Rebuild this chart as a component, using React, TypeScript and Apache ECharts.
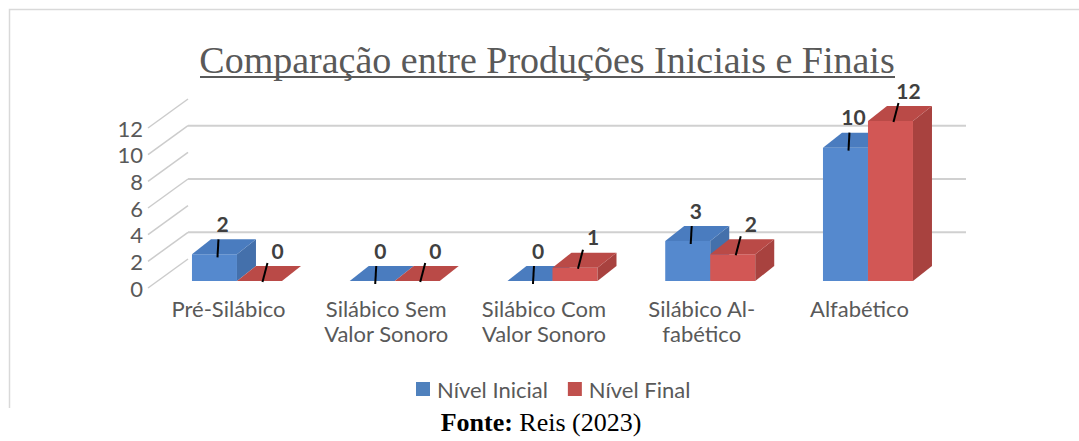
import React, { useEffect, useRef } from "react";
import * as echarts from "echarts";

const categories = [
  "Pré-Silábico",
  "Silábico Sem\nValor Sonoro",
  "Silábico Com\nValor Sonoro",
  "Silábico Al-\nfabético",
  "Alfabético",
];
const nivelInicial = [2, 0, 0, 3, 10];
const nivelFinal = [0, 0, 1, 2, 12];
const yTicks = [0, 2, 4, 6, 8, 10, 12];
const wallLines = [2, 6, 10];
const seriesNames = ["Nível Inicial", "Nível Final"];
const titleText = "Comparação entre Produções Iniciais e Finais";

const BAR_W = 45;
const DEPTH_X = 19;
const DEPTH_Y = -15;
const WALL_X = 40;
const WALL_Y = -29;

const palettes = [
  {
    legend: "#4F81BD", front: "#5589CE", top: "#4A7CBF", side: "#4470AB",
    labelDx: 8, lead: [-4, 16, -5, 34],
  },
  {
    legend: "#C0504D", front: "#D25755", top: "#BA4A47", side: "#A8423F",
    labelDx: 18, lead: [-10, 13, -15, 32],
  },
];

function barRender(idx: number) {
  const p = palettes[idx];
  return (params: any, api: any) => {
    const i = api.value(0);
    const v = api.value(1);
    const t = api.coord([i, v]);
    const b = api.coord([i, 0]);
    const x0 = idx === 0 ? t[0] - BAR_W : t[0];
    const x1 = x0 + BAR_W;
    const yt = t[1];
    const yb = b[1];
    const z = idx + 1;
    const lx = (x0 + x1) / 2 + p.labelDx;
    const ly = yt - 31;
    const children: any[] = [
      {
        type: "rect",
        z2: z,
        shape: { x: x0, y: yt, width: BAR_W, height: Math.max(0, yb - yt) },
        style: { fill: p.front },
      },
      {
        type: "polygon",
        z2: z,
        shape: {
          points: [
            [x1, yt],
            [x1 + DEPTH_X, yt + DEPTH_Y],
            [x1 + DEPTH_X, yb + DEPTH_Y],
            [x1, yb],
          ],
        },
        style: { fill: p.side },
      },
      {
        type: "polygon",
        z2: z,
        shape: {
          points: [
            [x0, yt],
            [x1, yt],
            [x1 + DEPTH_X, yt + DEPTH_Y],
            [x0 + DEPTH_X, yt + DEPTH_Y],
          ],
        },
        style: { fill: p.top },
      },
      {
        type: "line",
        z2: 10,
        shape: {
          x1: lx + p.lead[0], y1: ly + p.lead[1],
          x2: lx + p.lead[2], y2: ly + p.lead[3],
        },
        style: { stroke: "#000000", lineWidth: 2 },
      },
      {
        type: "text",
        z2: 11,
        style: {
          text: String(v),
          x: lx,
          y: ly,
          fill: "#404040",
          fontFamily: "Lato",
          fontWeight: "bold",
          fontSize: 21,
          align: "center",
          verticalAlign: "middle",
        },
      },
    ];
    return { type: "group", children };
  };
}

export default function App() {
  const ref = useRef<HTMLDivElement>(null);
  useEffect(() => {
    if (!ref.current) return;
    const chart = echarts.init(ref.current, undefined, { renderer: "svg" });
    const option: any = {
      animation: false,
      backgroundColor: "#ffffff",
      grid: [
        { left: 158.1, top: 121, width: 788.75, height: 160 },
        { left: 148, top: 128, width: 818, height: 160 },
      ],
      xAxis: [
        {
          type: "category",
          gridIndex: 0,
          data: categories,
          axisLine: { show: false },
          axisTick: { show: false },
          splitLine: { show: false },
          axisLabel: {
            interval: 0,
            margin: 15,
            color: "#595959",
            fontFamily: "Lato",
            fontSize: 22,
            lineHeight: 25,
            padding: [0, 17, 0, 0],
          },
        },
        {
          type: "value",
          gridIndex: 1,
          min: 0,
          max: 1,
          show: false,
        },
      ],
      yAxis: [
        { type: "value", gridIndex: 0, min: 0, max: 12, show: false },
        {
          type: "value",
          gridIndex: 1,
          min: 0,
          max: 12,
          interval: 2,
          axisLine: { show: false },
          axisTick: { show: false },
          splitLine: { show: false },
          axisLabel: {
            margin: 5,
            color: "#595959",
            fontFamily: "Lato",
            fontSize: 22,
          },
        },
      ],
      legend: {
        data: seriesNames,
        left: 411,
        top: 373,
        icon: "rect",
        itemWidth: 14,
        itemHeight: 14,
        itemGap: 20,
        textStyle: {
          color: "#595959",
          fontFamily: "Lato",
          fontSize: 22,
          padding: [0, 0, 0, 2],
        },
      },
      graphic: [
        {
          type: "polyline",
          shape: { points: [[9.5, 408], [9.5, 9.5], [1079, 9.5]] },
          style: { stroke: "#d9d9d9", lineWidth: 1.5, fill: "none" },
          silent: true,
        },
        {
          type: "text",
          x: 547,
          y: 60,
          style: {
            text: titleText,
            fill: "#595959",
            fontFamily: "Liberation Serif",
            fontSize: 38,
            align: "center",
            verticalAlign: "middle",
          },
        },
        {
          type: "line",
          shape: { x1: 200, y1: 77, x2: 895, y2: 77 },
          style: { stroke: "#595959", lineWidth: 2 },
        },
        {
          type: "text",
          x: 541,
          y: 422,
          style: {
            text: "{b|Fonte:} Reis (2023)",
            fill: "#000000",
            fontFamily: "Liberation Serif",
            fontSize: 26,
            align: "center",
            verticalAlign: "middle",
            rich: {
              b: {
                fontFamily: "Liberation Serif",
                fontSize: 26,
                fontWeight: "bold",
                fill: "#000000",
              },
            },
          },
        },
      ],
      series: [
        {
          type: "custom",
          name: "diagonals",
          xAxisIndex: 1,
          yAxisIndex: 1,
          silent: true,
          data: yTicks.map((v) => [0, v]),
          renderItem: (params: any, api: any) => {
            const p = api.coord([0, api.value(1)]);
            return {
              type: "line",
              shape: { x1: p[0], y1: p[1], x2: p[0] + WALL_X, y2: p[1] + WALL_Y },
              style: { stroke: "#cccccc", lineWidth: 1.5 },
            };
          },
        },
        {
          type: "custom",
          name: "wall",
          xAxisIndex: 1,
          yAxisIndex: 1,
          silent: true,
          data: wallLines.map((v) => [0, v]),
          renderItem: (params: any, api: any) => {
            const v = api.value(1);
            const p = api.coord([0, v]);
            const q = api.coord([1, v]);
            return {
              type: "line",
              shape: { x1: p[0] + WALL_X, y1: p[1] + WALL_Y, x2: q[0], y2: q[1] + WALL_Y },
              style: { stroke: "#d0d0d0", lineWidth: 2 },
            };
          },
        },
        {
          type: "custom",
          name: seriesNames[0],
          xAxisIndex: 0,
          yAxisIndex: 0,
          itemStyle: { color: palettes[0].legend },
          data: nivelInicial.map((v, i) => [i, v]),
          renderItem: barRender(0),
        },
        {
          type: "custom",
          name: seriesNames[1],
          xAxisIndex: 0,
          yAxisIndex: 0,
          itemStyle: { color: palettes[1].legend },
          data: nivelFinal.map((v, i) => [i, v]),
          renderItem: barRender(1),
        },
      ],
    };
    chart.setOption(option);
    return () => chart.dispose();
  }, []);
  return (
    <div
      ref={ref}
      style={{ position: "absolute", left: 0, top: 0, width: 1079, height: 441, background: "#fff" }}
    />
  );
}
